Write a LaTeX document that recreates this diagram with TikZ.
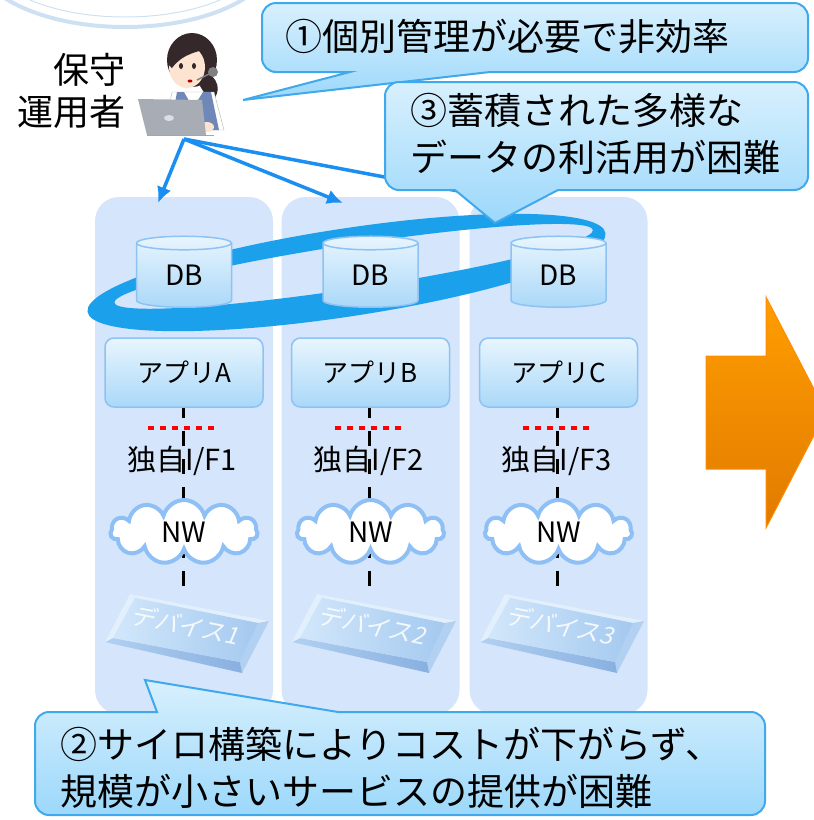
\documentclass[tikz,border=0pt]{standalone}
\usepackage{fontspec}
\setmainfont{Noto Sans CJK JP}
\newfontfamily\devfont{Noto Sans CJK JP}[FakeSlant=0.2]
\usepackage{tikz}
\usetikzlibrary{arrows.meta,shapes.geometric,shapes.symbols}

\definecolor{panelblue}{RGB}{213,229,251}
\definecolor{boxline}{RGB}{142,194,243}
\definecolor{boxtop}{RGB}{232,245,254}
\definecolor{boxbot}{RGB}{170,216,248}
\definecolor{cloudline}{RGB}{142,192,245}
\definecolor{ringblue}{RGB}{27,160,235}
\definecolor{opblue}{RGB}{27,142,242}
\definecolor{noteline}{RGB}{63,169,236}
\definecolor{notetop}{RGB}{216,240,253}
\definecolor{notebot}{RGB}{156,216,251}
\definecolor{hair}{RGB}{52,40,42}
\definecolor{skin}{RGB}{252,228,208}
\definecolor{vest}{RGB}{112,136,184}
\definecolor{laptop}{RGB}{168,173,181}
\definecolor{globe}{RGB}{205,225,242}
\definecolor{arrowtop}{RGB}{255,158,0}
\definecolor{arrowbot}{RGB}{225,122,0}
\definecolor{bevlight}{RGB}{226,239,252}
\definecolor{bevmid}{RGB}{178,208,241}
\definecolor{bevdark}{RGB}{136,176,224}
\definecolor{facelight}{RGB}{210,231,251}
\definecolor{facedark}{RGB}{164,201,239}

\begin{document}
\begin{tikzpicture}[x=1pt,y=-1pt,>={Latex[length=16pt,width=15pt]},
  panel/.style={fill=panelblue, rounded corners=24pt, minimum width=178pt, minimum height=517pt, inner sep=0pt},
  db/.style={shape=cylinder, shape border rotate=90, aspect=0.36, minimum width=95pt, minimum height=71pt,
    draw=boxline, line width=1.5pt, top color=boxtop, bottom color=boxbot, inner sep=0pt,
    font=\fontsize{28pt}{30pt}\selectfont},
  app/.style={rectangle, rounded corners=9pt, minimum width=158pt, minimum height=69pt,
    draw=boxline, line width=1.5pt, top color=boxtop, bottom color=boxbot,
    font=\fontsize{26pt}{28pt}\selectfont},
  nw/.style={cloud, cloud puffs=11, aspect=2.3, minimum width=147pt, minimum height=64pt,
    draw=cloudline, line width=4pt, fill=white, inner sep=0pt, font=\fontsize{28pt}{30pt}\selectfont},
  iftext/.style={font=\fontsize{29pt}{31pt}\selectfont, inner sep=0pt},
  ifline/.style={line width=3pt, dash pattern=on 15pt off 13pt, dash phase=5pt},
  ifgap/.style={red, line width=4.5pt, dash pattern=on 6pt off 6pt},
  opline/.style={->, opblue, line width=3.5pt},
  callout/.style={draw=noteline, line width=2pt, top color=notetop, bottom color=notebot},
  notetext/.style={font=\fontsize{37pt}{47pt}\selectfont, align=left, inner sep=0pt},
  devlabel/.style={text=white, opacity=.85, inner sep=0pt, font=\devfont\fontsize{24pt}{26pt}\selectfont}
]
  \useasboundingbox (0,0) rectangle (814,820);
  \clip (0,0) rectangle (814,820);

  % globe outline at the top
  \draw[globe, line width=4pt] (125,-45) ellipse [x radius=150, y radius=72];
  \draw[globe, line width=1pt] (125,-45) ellipse [x radius=138, y radius=62];

  % silo columns
  \foreach \i/\cx in {1/184,2/370.5,3/558.5} {
    \node[panel] (col\i) at (\cx,455.5) {};
  }

  % ring round the databases
  \begin{scope}[rotate around={8.65:(346.5,272.5)}]
    \fill[ringblue, even odd rule] (346.5,272.5) ellipse [x radius=262, y radius=44]
      (354.5,267.5) ellipse [x radius=242, y radius=22];
  \end{scope}

  % DB, app, interface, network per column
  \foreach \i/\cx/\ap in {1/184/A,2/370.5/B,3/558.5/C} {
    \node[db] (db\i) at (\cx,275.5) {DB};
    \node[app] (app\i) at (\cx,372.5) {アプリ\ap};
    \coordinate (devtop\i) at (\cx-1,587);
    \draw[ifline] ([xshift=-1pt]app\i.south) -- (devtop\i);
    \draw[ifgap] (\cx-36,428) -- (\cx+32,428);
    \node[iftext] (if\i) at (\cx-2,461) {独自I/F\i};
    \node[nw] (nw\i) at (\cx,532) {NW};
  }

  % devices
  \foreach \i/\cx in {1/188,2/375,3/563} {
    \begin{scope}[shift={(\cx,633)}]
      \fill[bevlight] (-58,-39) -- (81,-12) -- (70,-10) -- (-53,-35) -- cycle;
      \fill[bevmid] (81,-12) -- (54,40) -- (52,29) -- (70,-10) -- cycle;
      \shade[left color=bevmid, right color=bevdark] (54,40) -- (-83,9) -- (-75,5) -- (52,29) -- cycle;
      \fill[bevlight] (-83,9) -- (-58,-39) -- (-53,-35) -- (-75,5) -- cycle;
      \shade[left color=facelight, right color=facedark]
        (-53,-35) -- (70,-10) -- (52,29) -- (-75,5) -- cycle;
      \node[devlabel, rotate=-11.5] (dev\i) at (-3,-8) {デバイス\i};
    \end{scope}
  }

  % operator
  \fill[hair] (192,60) ellipse [x radius=25, y radius=27];
  \fill[hair] (206,72) .. controls (224,82) and (218,98) .. (210,102) -- (200,86) -- cycle;
  \fill[skin] (187,67) ellipse [x radius=18, y radius=21];
  \fill[hair] (168,64) .. controls (166,40) and (192,30) .. (208,48)
    .. controls (200,52) and (184,52) .. (172,68) -- cycle;
  \fill[hair] (181,66) ellipse [x radius=2, y radius=3];
  \fill[hair] (194,66) ellipse [x radius=2, y radius=3];
  \fill[red!70!black] (190,81) ellipse [x radius=2.5, y radius=1.5];
  \fill[white, draw=gray!60] (172,92) -- (214,92) -- (224,130) -- (165,130) -- cycle;
  \fill[vest] (177,92) -- (184,92) -- (193,108) -- (203,92) -- (211,92) -- (219,130) -- (170,130) -- cycle;
  \fill[skin] (207,127) ellipse [x radius=7, y radius=5];
  \draw[gray, line width=1.5pt] (213,72) -- (197,80);
  \fill[gray] (213,72) circle (5);
  \fill[laptop] (138,99) -- (202,100) -- (206,135) -- (147,135) -- cycle;
  \fill[white, opacity=.6] (169,118) ellipse [x radius=5, y radius=3];
  \draw[gray!70, line width=1pt] (147,135) -- (214,135);
  \node[anchor=east, align=right, inner sep=0pt, font=\fontsize{36pt}{42pt}\selectfont]
    (oplabel) at (126,91) {保守\\運用者};

  % operator to each silo
  \coordinate (op) at (184,139);
  \coordinate (in1) at (158,203);
  \coordinate (in2) at (343,203);
  \coordinate (in3) at (490,197);
  \draw[opline] (op) -- (in1);
  \draw[opline] (op) -- (in2);
  \draw[opline] (op) -- (in3);

  % callouts
  \path[callout] (350,72) -- (243,100) -- (490,72) [rounded corners=14pt] -- (808,72) -- (808,3)
    -- (262,3) -- (262,72) -- (300,72) [sharp corners] -- cycle;
  \node[notetext, anchor=west] (note1) at (285,37) {①個別管理が必要で非効率};

  \path[callout] (455,190) -- (495,223) -- (558,190) [rounded corners=14pt] -- (808,190) -- (808,82)
    -- (385,82) -- (385,190) -- (420,190) [sharp corners] -- cycle;
  \node[notetext, anchor=west] (note3) at (410,134) {③蓄積された多様な\\データの利活用が困難};

  \path[callout] (157,712) -- (145,680) -- (338,712) [rounded corners=14pt] -- (765,712) -- (765,815)
    -- (35,815) -- (35,712) -- (100,712) [sharp corners] -- cycle;
  \node[notetext, anchor=west] (note2) at (60,768) {②サイロ構築によりコストが下がらず、\\規模が小さいサービスの提供が困難};

  % transition arrow
  \shade[top color=arrowtop, bottom color=arrowbot, draw=orange!90!yellow, line width=1pt]
    (706,356) -- (766,356) -- (766,297) -- (826,412) -- (766,528) -- (766,469) -- (706,469) -- cycle;
\end{tikzpicture}
\end{document}
